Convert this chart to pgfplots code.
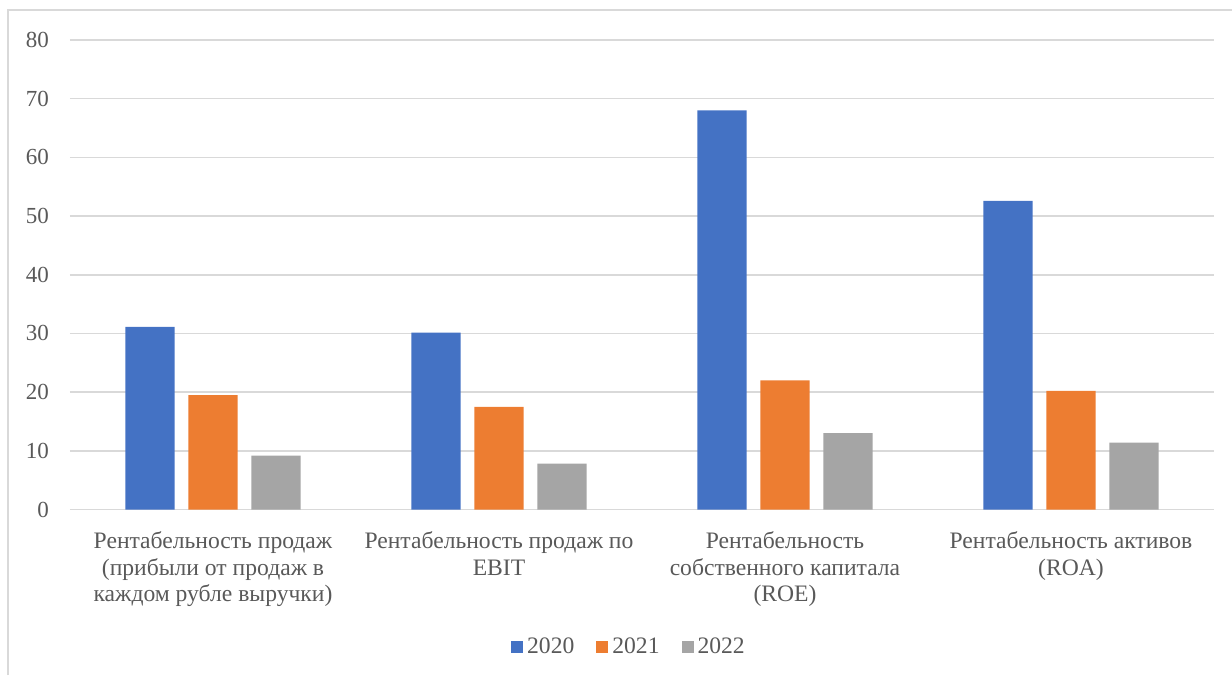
\documentclass[border=0pt]{standalone}
\usepackage{fontspec}
\setmainfont{Liberation Serif}
\usepackage{pgfplots}
\pgfplotsset{compat=1.18}
\definecolor{c2020}{HTML}{4472C4}
\definecolor{c2021}{HTML}{ED7D31}
\definecolor{c2022}{HTML}{A5A5A5}
\definecolor{txt}{HTML}{595959}
\definecolor{gridc}{HTML}{D9D9D9}

\begin{document}
\begin{tikzpicture}[x=1pt,y=1pt]
\path[use as bounding box] (0,0) rectangle (616,337.5);
\draw[gridc, line width=0.75pt] (4,0) -- (4,332.5) -- (616,332.5);
\begin{axis}[
  at={(35pt,82.75pt)}, anchor=south west,
  scale only axis, width=572pt, height=234.75pt,
  ybar=6.8pt, bar width=24.7pt,
  xmin=-0.5, xmax=3.5, ymin=0, ymax=80,
  ytick={0,10,...,80},
  xtick={0,1,2,3},
  xticklabels={
    {Рентабельность продаж\\(прибыли от продаж в\\каждом рубле выручки)},
    {Рентабельность продаж по\\EBIT},
    {Рентабельность\\собственного капитала\\(ROE)},
    {Рентабельность активов\\(ROA)}},
  x tick label style={align=center, text=txt, font=\fontsize{11.8}{13.3}\selectfont, anchor=north, yshift=-7.5pt},
  y tick label style={text=txt, font=\fontsize{11.5}{13.3}\selectfont, xshift=-7pt},
  /pgf/number format/assume math mode=true,
  major tick length=0pt,
  axis line style={draw=none},
  ymajorgrids, grid style={gridc, line width=0.75pt},
  legend columns=3,
  legend style={at={(0.4895,-0.2936)}, anchor=center, draw=none, fill=none,
    font=\fontsize{11.8}{13.3}\selectfont, text=txt,
    /tikz/every even column/.append style={column sep=9pt}},
]
\addplot[fill=c2020, draw=none, legend image code/.code={\fill[c2020] (0pt,-3pt) rectangle (6pt,3pt);}]
  coordinates {(0,31.1) (1,30.15) (2,68.0) (3,52.6)};
\addplot[fill=c2021, draw=none, legend image code/.code={\fill[c2021] (0pt,-3pt) rectangle (6pt,3pt);}]
  coordinates {(0,19.5) (1,17.5) (2,22.0) (3,20.2)};
\addplot[fill=c2022, draw=none, legend image code/.code={\fill[c2022] (0pt,-3pt) rectangle (6pt,3pt);}]
  coordinates {(0,9.2) (1,7.8) (2,13.0) (3,11.4)};
\legend{2020,2021,2022}
\end{axis}
\end{tikzpicture}
\end{document}
